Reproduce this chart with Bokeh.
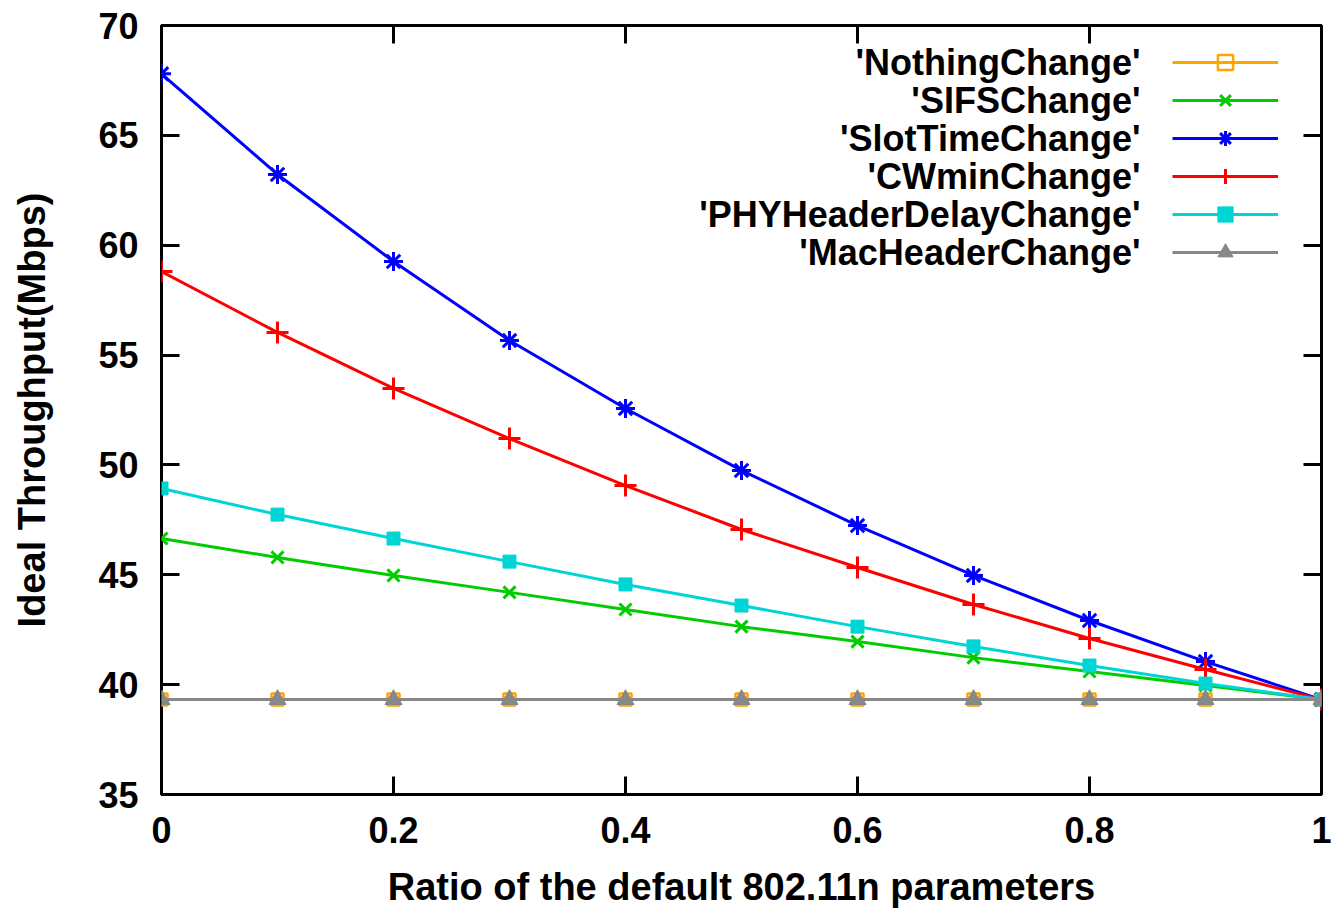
from bokeh.plotting import figure
from bokeh.models import (Range1d, FixedTicker, LinearAxis, Legend, LegendItem, Label)
from bokeh.embed import file_html
from bokeh.resources import INLINE

# ---- data ----
ratio = [0.0, 0.1, 0.2, 0.3, 0.4, 0.5, 0.6, 0.7, 0.8, 0.9, 1.0]
nothing_change = [39.32, 39.32, 39.32, 39.32, 39.32, 39.32, 39.32, 39.32, 39.32, 39.32, 39.32]
sifs_change = [46.65, 45.79, 44.97, 44.20, 43.42, 42.64, 41.96, 41.23, 40.60, 39.96, 39.32]
slottime_change = [67.80, 63.22, 59.26, 55.66, 52.57, 49.75, 47.24, 44.97, 42.92, 41.05, 39.32]
cwmin_change = [58.80, 56.03, 53.48, 51.20, 49.06, 47.06, 45.33, 43.65, 42.10, 40.69, 39.32]
phy_change = [48.93, 47.74, 46.65, 45.60, 44.56, 43.60, 42.64, 41.74, 40.87, 40.05, 39.32]
mac_change = [39.32, 39.32, 39.32, 39.32, 39.32, 39.32, 39.32, 39.32, 39.32, 39.32, 39.32]

series_names = ["'NothingChange'", "'SIFSChange'", "'SlotTimeChange'", "'CWminChange'",
                "'PHYHeaderDelayChange'", "'MacHeaderChange'"]

x_ticks = [0, 0.2, 0.4, 0.6, 0.8, 1]
x_tick_labels = ["0", "0.2", "0.4", "0.6", "0.8", "1"]
y_ticks = [35, 40, 45, 50, 55, 60, 65, 70]

x_label = "Ratio of the default 802.11n parameters"
y_label = "Ideal Throughput(Mbps)"

FONT = "Liberation Sans"
FS = "36px"
FS_LABEL = "38px"

p = figure(width=1331, height=911, output_backend="svg", toolbar_location=None,
           x_range=Range1d(0, 1), y_range=Range1d(35, 70),
           min_border_left=161, min_border_right=10, min_border_top=25, min_border_bottom=117)
p.grid.visible = False
p.outline_line_color = "black"
p.outline_line_width = 3
p.background_fill_color = "white"
p.border_fill_color = "white"

p.xaxis.ticker = FixedTicker(ticks=x_ticks)
p.xaxis.major_label_overrides = {t: l for t, l in zip(x_ticks, x_tick_labels)}
p.yaxis.ticker = FixedTicker(ticks=y_ticks)

for ax in [p.xaxis[0], p.yaxis[0]]:
    ax.axis_line_color = None
    ax.major_tick_in = 18
    ax.major_tick_out = 0
    ax.major_tick_line_width = 3
    ax.minor_tick_line_color = None
    ax.major_label_text_font = FONT
    ax.major_label_text_font_style = "bold"
    ax.major_label_text_font_size = FS
    ax.major_label_text_color = "black"
    ax.axis_label_text_font = FONT
    ax.axis_label_text_font_style = "bold"
    ax.axis_label_text_font_size = FS_LABEL
    ax.axis_label_text_color = "black"

p.xaxis.axis_label = x_label
p.yaxis.axis_label = y_label
p.xaxis.major_label_standoff = 22
p.yaxis.major_label_standoff = 23
p.xaxis.axis_label_standoff = 20
p.yaxis.axis_label_standoff = 42

# mirrored ticks (labels not drawn)
top_ax = LinearAxis(ticker=FixedTicker(ticks=x_ticks), axis_line_color=None,
                    major_tick_in=18, major_tick_out=0, major_tick_line_width=3,
                    minor_tick_line_color=None, major_label_text_font_size="10px",
                    major_label_text_color=None, major_label_standoff=0)
right_ax = LinearAxis(ticker=FixedTicker(ticks=y_ticks), axis_line_color=None,
                      major_tick_in=18, major_tick_out=0, major_tick_line_width=3,
                      minor_tick_line_color=None, major_label_text_font_size="10px",
                      major_label_text_color=None, major_label_standoff=0)
top_ax.major_label_overrides = {t: "" for t in x_ticks}
right_ax.major_label_overrides = {t: "" for t in y_ticks}
p.add_layout(top_ax, "above")
p.add_layout(right_ax, "right")

LW = 3
series = [
    (nothing_change, "#ffa500", dict(marker="square", size=12, fill_color=None, line_width=2.5)),
    (sifs_change, "#00cc00", dict(marker="x", size=17, line_width=3)),
    (slottime_change, "#0000ff", dict(marker="asterisk", size=19, line_width=3)),
    (cwmin_change, "#ff0000", dict(marker="cross", size=22, line_width=3)),
    (phy_change, "#00d5d5", dict(marker="square", size=13, line_width=1)),
    (mac_change, "#888888", dict(marker="triangle", size=17, line_width=1)),
]

items = []
for (vals, col, mk), name in zip(series, series_names):
    lr = p.line(ratio, vals, line_color=col, line_width=LW)
    kw = dict(mk)
    fill = kw.pop("fill_color", col)
    sr = p.scatter(ratio, vals, line_color=col, fill_color=fill, **kw)
    items.append(LegendItem(label="", renderers=[lr, sr]))

legend = Legend(items=items, location=(1011, 523), orientation="vertical",
                glyph_width=106, glyph_height=38, label_height=20, spacing=0,
                padding=0, margin=0, border_line_color=None, background_fill_alpha=0,
                label_text_font_size="10px", label_text_color=None, label_standoff=0)
p.add_layout(legend, "center")

row_y0 = 732
for i, name in enumerate(series_names):
    p.add_layout(Label(x=979, y=row_y0 - 38 * i, x_units="screen", y_units="screen",
                       text=name, text_align="right", text_baseline="middle",
                       text_font=FONT, text_font_style="bold", text_font_size=FS,
                       text_color="black"))

open("out.html", "w").write(file_html(p, INLINE))
